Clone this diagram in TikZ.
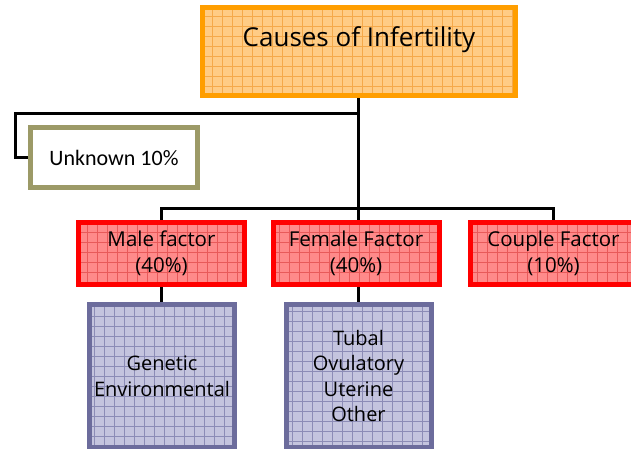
\documentclass[tikz,border=0pt]{standalone}
\usepackage{fontspec}
\setmainfont{Open Sans}
\newfontfamily\unkfont{Carlito}
\usetikzlibrary{backgrounds}
\definecolor{orangeline}{HTML}{FF9E00}
\definecolor{orangefill}{HTML}{FFCC85}
\definecolor{orangegrid}{HTML}{F5A94A}
\definecolor{redline}{HTML}{FF0000}
\definecolor{redfill}{HTML}{FF8A8A}
\definecolor{redgrid}{HTML}{E85A5A}
\definecolor{purpleline}{HTML}{6C6C9C}
\definecolor{purplefill}{HTML}{C4C4DE}
\definecolor{purplegrid}{HTML}{8C8CB6}
\definecolor{oliveline}{HTML}{9C9A67}
\tikzset{
  gridded/.style={path picture={\draw[#1,line width=0.6pt,step=10pt]
    (path picture bounding box.south west) grid (path picture bounding box.north east);}},
  titlebox/.style={draw=orangeline,fill=orangefill,gridded=orangegrid,line width=5pt,
    minimum width=313pt,minimum height=88pt,font=\fontsize{26}{30}\selectfont,text depth=30pt},
  unkbox/.style={draw=oliveline,fill=white,line width=5pt,minimum width=167pt,
    minimum height=60pt,font=\unkfont\fontsize{22}{26}\selectfont},
  factorbox/.style={draw=redline,fill=redfill,gridded=redgrid,line width=5pt,
    minimum width=166pt,minimum height=62pt,align=center,font=\fontsize{20.5}{26}\selectfont},
  subbox/.style={draw=purpleline,fill=purplefill,gridded=purplegrid,line width=5pt,
    minimum width=145pt,minimum height=143pt,align=center,font=\fontsize{20}{25.5}\selectfont},
  conn/.style={line width=3pt}
}
\begin{document}
\begin{tikzpicture}[x=1pt,y=-1pt]
  \useasboundingbox (0,0) rectangle (631,448);
  % boxes
  \node[titlebox] (top) at (359,51.5) {Causes of Infertility};
  \node[unkbox] (unk) at (114,157.5) {Unknown 10\%};
  \node[factorbox] (male) at (161.5,253.5) {Male factor\\(40\%)};
  \node[factorbox] (female) at (356,253.5) {Female Factor\\(40\%)};
  \node[factorbox] (couple) at (553.5,253.5) {Couple Factor\\(10\%)};
  \node[subbox] (gen) at (162,376) {Genetic\\Environmental};
  \node[subbox] (fem) at (358.5,376) {Tubal\\Ovulatory\\Uterine\\Other};
  % connectors
  \coordinate (ju) at (358,113);
  \coordinate (uk) at (15,113);
  \coordinate (jn) at (358,208);
  \begin{scope}[on background layer]
    \draw[conn] (top.south-|jn) -- (jn);
    \draw[conn] (ju) -- (uk) |- (unk.west);
    \draw[conn] (male.north) |- (jn) -| (couple.north);
    \draw[conn] (jn) -- (jn|-female.north);
    \draw[conn] (male.south) -- (male.south|-gen.north);
    \draw[conn] (female.south-|jn) -- (jn|-fem.north);
  \end{scope}
\end{tikzpicture}
\end{document}
